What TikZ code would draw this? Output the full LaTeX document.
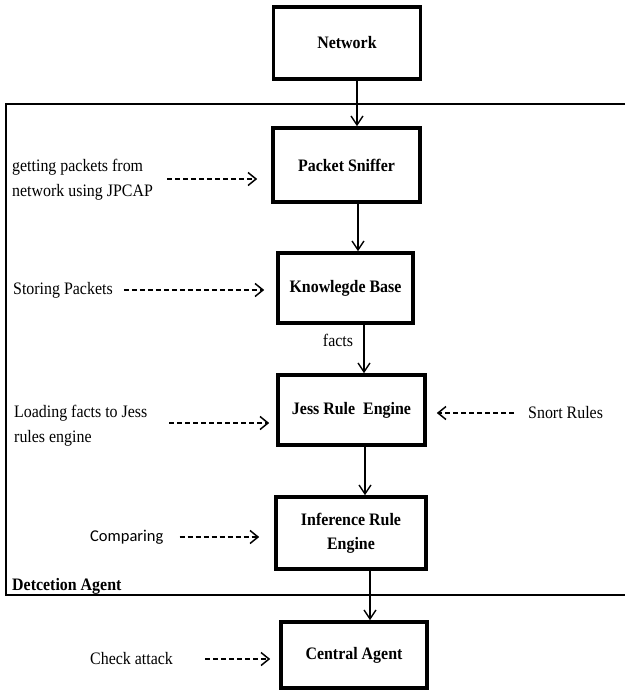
\documentclass[tikz,border=0pt]{standalone}
\usepackage{fontspec}
\setmainfont{Liberation Serif}[FakeStretch=0.91]
\newfontfamily\calib{Carlito}
\usetikzlibrary{arrows.meta}
\tikzset{
  boxnode/.style={draw, line width=3.6pt, font=\fontsize{17.5}{24}\selectfont\bfseries, align=center, inner sep=0pt},
  lbl/.style={font=\fontsize{17.5}{25}\selectfont, align=left, inner sep=0pt},
  arr/.style={line width=1.4pt, -{Straight Barb[length=9pt,width=12pt,line width=1.4pt]}},
  darr/.style={line width=1.5pt, dash pattern=on 5pt off 3pt, -{Straight Barb[length=8pt,width=13pt,line width=1.5pt]}},
  frame/.style={line width=1.6pt}
}
\begin{document}
\begin{tikzpicture}[x=1pt,y=-1pt]
\useasboundingbox (0,0) rectangle (625,691);
% frame
\coordinate (ftr) at (625,104);
\coordinate (ftl) at (6,104);
\coordinate (fbl) at (6,595);
\coordinate (fbr) at (625,595);
\draw[frame] (ftr) -- (ftl) -- (fbl) -- (fbr);
% boxes
\node[boxnode, minimum width=147pt, minimum height=72pt] (net) at (347,43) {Network};
\node[boxnode, minimum width=147pt, minimum height=74pt] (ps) at (346.5,165) {Packet Sniffer};
\node[boxnode, minimum width=135pt, minimum height=70pt] (kb) at (345.5,288) {Knowlegde Base};
\node[boxnode, minimum width=147pt, minimum height=70pt] (jre) at (351.5,410) {Jess Rule~~Engine};
\node[boxnode, minimum width=150pt, minimum height=72pt] (ire) at (351,533) {Inference Rule\\Engine};
\node[boxnode, minimum width=146pt, minimum height=66pt] (ca) at (354,655) {Central Agent};
% solid arrows
\draw[arr] ([xshift=10pt]net.south) -- ([xshift=10pt]net.south |- ps.north);
\draw[arr] ([xshift=11.5pt]ps.south) -- ([xshift=11.5pt]ps.south |- kb.north);
\draw[arr] ([xshift=18.5pt]kb.south) -- ([xshift=18.5pt]kb.south |- jre.north);
\draw[arr] ([xshift=13.5pt]jre.south) -- ([xshift=13.5pt]jre.south |- ire.north);
\draw[arr] ([xshift=19pt]ire.south) -- ([xshift=19pt]ire.south |- ca.north);
% labels
\node[lbl, anchor=west] (l1) at (12,180) {getting packets from\\network using JPCAP};
\node[lbl, anchor=west] (l2) at (13,290) {Storing Packets};
\node[lbl] (facts) at (338,340) {facts};
\node[lbl, anchor=west] (l3) at (14,426) {Loading facts to Jess\\rules engine};
\node[lbl, anchor=west] (snort) at (528,413) {Snort Rules};
\node[lbl, anchor=west, font=\calib\fontsize{16.5}{20}\selectfont] (l4) at (90,537) {Comparing};
\node[lbl, anchor=west, font=\fontsize{17.5}{20}\selectfont\bfseries] (det) at (12,586) {Detcetion Agent};
\node[lbl, anchor=west] (l5) at (90,659) {Check attack};
% dashed arrows
\coordinate (d1s) at (167,179);
\draw[darr] (d1s) -- ([xshift=-14pt]ps.west |- d1s);
\draw[darr] ([xshift=11pt]l2.east) -- ([xshift=-12pt]kb.west |- l2.east);
\coordinate (d3s) at (169,423);
\draw[darr] (d3s) -- ([xshift=-7pt]jre.west |- d3s);
\draw[darr] ([xshift=-14pt]snort.west) -- ([xshift=10pt]jre.east |- snort.west);
\draw[darr] ([xshift=16pt]l4.east) -- ([xshift=-15pt]ire.west |- l4.east);
\draw[darr] ([xshift=32pt]l5.east) -- ([xshift=-9pt]ca.west |- l5.east);
\end{tikzpicture}
\end{document}
